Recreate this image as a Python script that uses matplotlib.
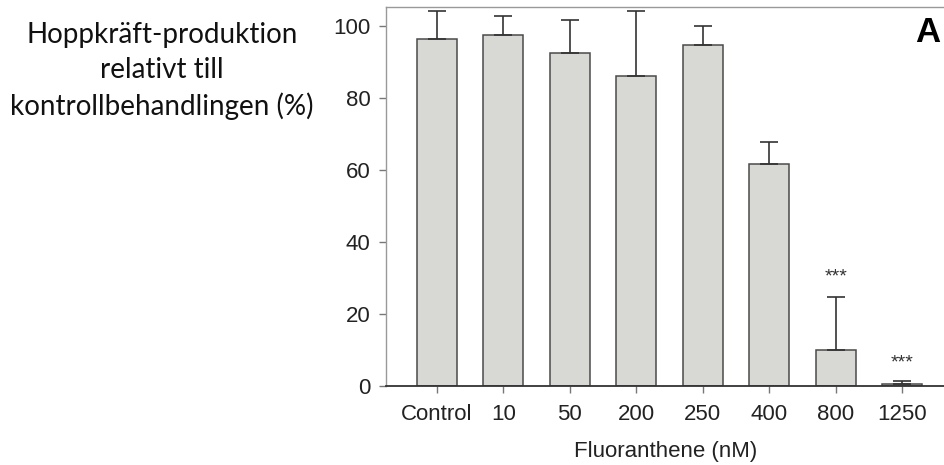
import numpy as np
import matplotlib
matplotlib.use('Agg')
import matplotlib.pyplot as plt

# ----------------------------------------------------------------------
# Data
# ----------------------------------------------------------------------
categories = ['Control', '10', '50', '200', '250', '400', '800', '1250']
means = [96.2, 97.3, 92.5, 85.9, 94.5, 61.5, 9.9, 0.4]
err_tops = [104.1, 102.8, 101.6, 104.1, 99.9, 67.7, 24.7, 1.2]
stars = ['', '', '', '', '', '', '***', '***']
star_y = [0, 0, 0, 0, 0, 0, 30.3, 6.4]
yticks = [0, 20, 40, 60, 80, 100]

plt.rcParams['font.family'] = ['Liberation Sans', 'DejaVu Sans']

fig = plt.figure(figsize=(9.45, 4.65), dpi=100)
ax = fig.add_axes([385.7 / 945, 1 - 385.7 / 465, 1 - 385.7 / 945, (385.7 - 7.3) / 465])

x = np.arange(len(categories))
ax.bar(x, means, width=0.6, color='#d8d9d4', edgecolor='#4a4a4a', linewidth=1.1, zorder=2)

lower = np.zeros(len(means))
upper = np.array(err_tops) - np.array(means)
ax.errorbar(x, means, yerr=[lower, upper], fmt='none', ecolor='#333333',
            elinewidth=1.2, capsize=6.5, capthick=1.2, zorder=3)

for xi, s, sy in zip(x, stars, star_y):
    if s:
        ax.text(xi, sy, s, ha='center', va='center', fontsize=14, color='#333333')

ax.set_xlim(-0.766, 7.64)
ax.set_ylim(0, 105.1)
ax.set_xticks(x)
ax.set_xticklabels(categories)
ax.set_yticks(yticks)

ax.spines['right'].set_visible(False)
ax.spines['left'].set_color('#999999')
ax.spines['top'].set_color('#999999')
ax.spines['bottom'].set_color('#333333')
ax.spines['bottom'].set_linewidth(1.3)
ax.spines['left'].set_linewidth(1.0)
ax.spines['top'].set_linewidth(1.0)
ax.tick_params(axis='both', labelsize=16, colors='#222222', length=5, width=1.0)
ax.tick_params(axis='y', color='#777777', pad=6)
ax.tick_params(axis='x', color='#777777', pad=8)

ax.set_xlabel('Fluoranthene (nM)', fontsize=16, color='#222222', labelpad=12)

ax.text(927.5 / 945, 1 - 32.5 / 465, 'A', transform=fig.transFigure,
        ha='center', va='center', fontsize=25, fontweight='bold')

fig.text(162 / 945, 1 - 71 / 465,
         'Hoppkräft-produktion\nrelativt till\nkontrollbehandlingen (%)',
         ha='center', va='center', fontsize=20, family=['Lato', 'DejaVu Sans'],
         linespacing=1.4, color='#111111')

fig.savefig('out.png', dpi=100)
